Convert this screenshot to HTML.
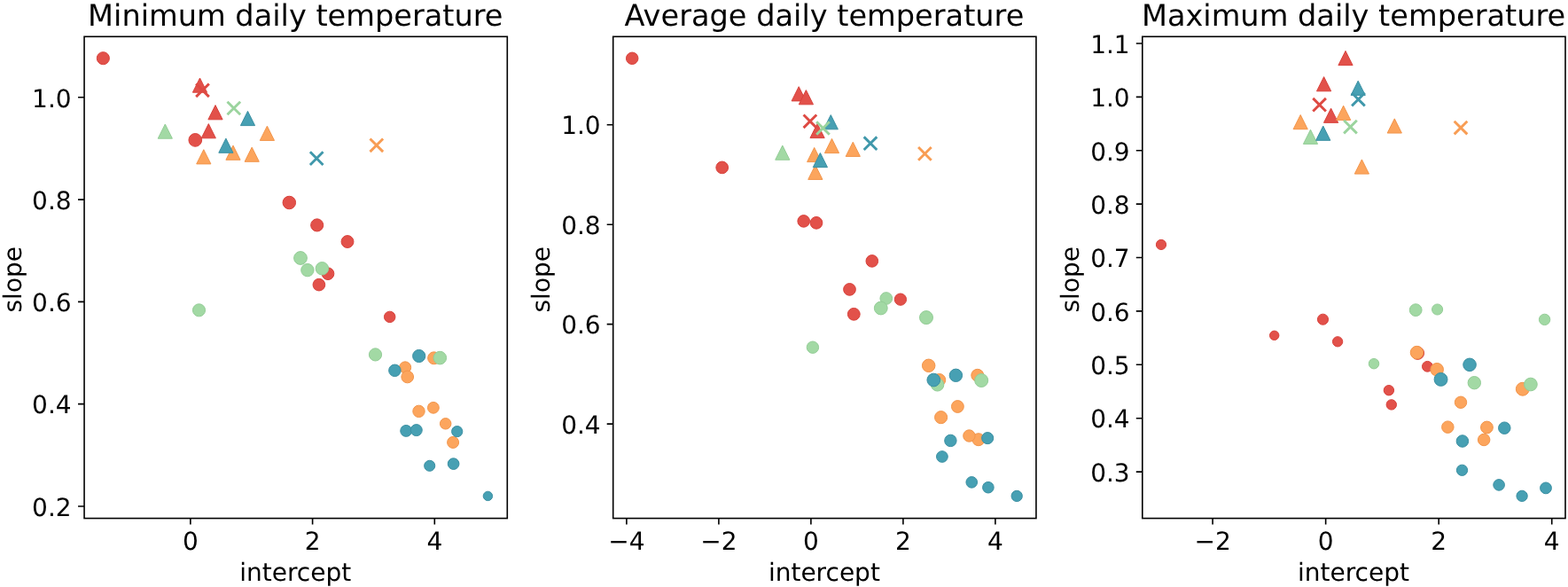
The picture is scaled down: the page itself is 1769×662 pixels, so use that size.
<!DOCTYPE html>
<html lang="en"><head><meta charset="utf-8">
<title>Slope vs intercept of daily temperature fits</title>
<style>
html,body{margin:0;padding:0;background:#fff;}
body{width:1769px;height:662px;overflow:hidden;}
svg{display:block;}
text{font-family:"DejaVu Sans", "Liberation Sans", sans-serif;fill:#000;text-rendering:geometricPrecision;}
.tk{font-size:28px;}
.lb{font-size:28px;}
.ti{font-size:33.6px;}
.sp{fill:none;stroke:#000;stroke-width:1.6;stroke-linejoin:miter;stroke-linecap:square;}
.tm{stroke:#000;stroke-width:1.6;fill:none;}
.r{fill:#e2514a;stroke:#d8423c;}
.r path{stroke:#de4a43;}
.o{fill:#fca55d;stroke:#f2954b;}
.o path{stroke:#f89d54;}
.g{fill:#a2d9a4;stroke:#94cd97;}
.g path{stroke:#9bd49e;}
.t{fill:#47a0b3;stroke:#3a8fa2;}
.t path{stroke:#4098ab;}
.mk{stroke-width:1;}
.mk polygon{stroke-linejoin:miter;stroke-miterlimit:10;}
.mk path{fill:none;stroke-linecap:square;stroke-width:2.9;}
</style></head><body>
<svg width="1769" height="662" viewBox="0 0 1769 662" role="img" aria-label="Slope versus intercept scatter plots for minimum, average and maximum daily temperature">
<rect x="0" y="0" width="1769" height="662" fill="#fff"/>
<g id="panel1">
<g class="mk">
<g class="r">
<circle cx="116.35" cy="65.7" r="7.05"/>
<circle cx="220.3" cy="157.9" r="7.35"/>
<circle cx="326.3" cy="228.5" r="7.25"/>
<circle cx="357.7" cy="253.9" r="7.05"/>
<circle cx="392" cy="272.55" r="6.95"/>
<circle cx="370" cy="308.7" r="6.85"/>
<circle cx="359.9" cy="321.1" r="6.85"/>
<circle cx="439.7" cy="357.4" r="6.25"/>
</g>
<g class="o">
<circle cx="489.6" cy="403.8" r="6.95"/>
<circle cx="457.1" cy="414.4" r="6.55"/>
<circle cx="459.7" cy="425" r="6.85"/>
<circle cx="472.5" cy="463.85" r="6.7"/>
<circle cx="488.9" cy="459.8" r="6.4"/>
<circle cx="502.7" cy="477.8" r="6.25"/>
<circle cx="511.1" cy="498.9" r="6.5"/>
</g>
<g class="g">
<circle cx="339" cy="291" r="7.4"/>
<circle cx="346.9" cy="304.6" r="7.2"/>
<circle cx="363.4" cy="302.8" r="7.25"/>
<circle cx="224.5" cy="349.8" r="7.05"/>
<circle cx="423.5" cy="399.9" r="7.1"/>
<circle cx="496.3" cy="403.6" r="7.3"/>
</g>
<g class="t">
<circle cx="472.7" cy="401.5" r="7.1"/>
<circle cx="445.4" cy="417.8" r="6.75"/>
<circle cx="458.2" cy="485.9" r="6.45"/>
<circle cx="469.75" cy="485.1" r="6.5"/>
<circle cx="515.7" cy="486.6" r="6.1"/>
<circle cx="484.7" cy="525.3" r="6.05"/>
<circle cx="511.6" cy="523.1" r="6.35"/>
<circle cx="550.4" cy="559.4" r="5.2"/>
</g>
<g class="r">
<polygon points="225.5,88.02 217.41,104.2 233.59,104.2"/>
<polygon points="243,118.62 234.91,134.8 251.09,134.8"/>
<polygon points="235.3,139.62 227.21,155.8 243.39,155.8"/>
</g>
<g class="o">
<polygon points="301.4,142.22 293.31,158.4 309.49,158.4"/>
<polygon points="263,164.12 254.91,180.3 271.09,180.3"/>
<polygon points="284.2,166.12 276.11,182.3 292.29,182.3"/>
<polygon points="229.8,168.72 221.71,184.9 237.89,184.9"/>
</g>
<g class="g">
<polygon points="186.3,140.02 178.21,156.2 194.39,156.2"/>
</g>
<g class="t">
<polygon points="279.5,125.42 271.41,141.6 287.59,141.6"/>
<polygon points="254.9,156.12 246.81,172.3 262.99,172.3"/>
</g>
<g class="r">
<path d="M222.2 95.5L234.8 108.1M222.2 108.1L234.8 95.5"/>
</g>
<g class="o">
<path d="M418.5 157.5L431.1 170.1M418.5 170.1L431.1 157.5"/>
</g>
<g class="g">
<path d="M257.5 115.7L270.1 128.3M257.5 128.3L270.1 115.7"/>
</g>
<g class="t">
<path d="M350.9 172.35L363.5 184.95M350.9 184.95L363.5 172.35"/>
</g>
</g>
<path class="tm" d="M214.87 584.55v7M352.6 584.55v7M490.3 584.55v7M95.05 109.8h-7M95.05 225.1h-7M95.05 340.4h-7M95.05 455.65h-7M95.05 570.94h-7"/>
<rect class="sp" x="95.05" y="41.3" width="477.25" height="543.25"/>
<text class="tk" x="214.87" y="620" text-anchor="middle">0</text>
<text class="tk" x="352.6" y="620" text-anchor="middle">2</text>
<text class="tk" x="490.3" y="620" text-anchor="middle">4</text>
<text class="tk" x="80.65" y="121" text-anchor="end">1.0</text>
<text class="tk" x="80.65" y="236" text-anchor="end">0.8</text>
<text class="tk" x="80.65" y="351" text-anchor="end">0.6</text>
<text class="tk" x="80.65" y="466" text-anchor="end">0.4</text>
<text class="tk" x="80.65" y="582" text-anchor="end">0.2</text>
<text class="lb" x="333.22" y="655" text-anchor="middle">intercept</text>
<text class="lb" transform="translate(24 315.22) rotate(-90)" text-anchor="middle">slope</text>
<text class="ti" x="333.32" y="29" text-anchor="middle">Minimum daily temperature</text>
</g>
<g id="panel2">
<g class="mk">
<g class="r">
<circle cx="713.2" cy="65.8" r="6.75"/>
<circle cx="814.7" cy="188.9" r="6.85"/>
<circle cx="906.7" cy="249.4" r="6.8"/>
<circle cx="921" cy="251.3" r="6.85"/>
<circle cx="983.8" cy="294.4" r="6.8"/>
<circle cx="958.5" cy="326.4" r="6.85"/>
<circle cx="1015.9" cy="337.65" r="6.65"/>
<circle cx="963.3" cy="354.3" r="6.9"/>
</g>
<g class="o">
<circle cx="1047.7" cy="412.3" r="7.25"/>
<circle cx="1059.7" cy="428.5" r="7"/>
<circle cx="1102.8" cy="423.3" r="7"/>
<circle cx="1080.4" cy="458.5" r="6.9"/>
<circle cx="1061.6" cy="470.65" r="7.05"/>
<circle cx="1103.9" cy="495.7" r="7"/>
<circle cx="1093.4" cy="491.5" r="6.7"/>
</g>
<g class="g">
<circle cx="999.8" cy="336.5" r="6.85"/>
<circle cx="993.8" cy="347.5" r="7.4"/>
<circle cx="1045" cy="358.1" r="7.5"/>
<circle cx="916.9" cy="391.7" r="6.7"/>
<circle cx="1057.6" cy="433.8" r="7.25"/>
<circle cx="1107.2" cy="429" r="7.5"/>
</g>
<g class="t">
<circle cx="1053.3" cy="428.55" r="7.35"/>
<circle cx="1078.4" cy="423.3" r="7.2"/>
<circle cx="1114.2" cy="494.1" r="6.55"/>
<circle cx="1072.4" cy="496.9" r="6.7"/>
<circle cx="1062.9" cy="515" r="6.35"/>
<circle cx="1096.25" cy="543.85" r="6.3"/>
<circle cx="1114.9" cy="549.7" r="6.3"/>
<circle cx="1147.2" cy="559.4" r="6.15"/>
</g>
<g class="r">
<polygon points="901.2,97.72 893.11,113.9 909.29,113.9"/>
<polygon points="909.4,101.62 901.31,117.8 917.49,117.8"/>
<polygon points="922.1,139.42 914.01,155.6 930.19,155.6"/>
</g>
<g class="o">
<polygon points="938.5,156.42 930.41,172.6 946.59,172.6"/>
<polygon points="962.3,160.22 954.21,176.4 970.39,176.4"/>
<polygon points="918.7,166.42 910.61,182.6 926.79,182.6"/>
<polygon points="919.85,186.22 911.76,202.4 927.94,202.4"/>
</g>
<g class="g">
<polygon points="882.8,164.07 874.71,180.25 890.89,180.25"/>
</g>
<g class="t">
<polygon points="937.3,129.62 929.21,145.8 945.39,145.8"/>
<polygon points="925.4,172.47 917.31,188.65 933.49,188.65"/>
</g>
<g class="r">
<path d="M907.6 130.5L920.2 143.1M907.6 143.1L920.2 130.5"/>
</g>
<g class="o">
<path d="M1037.1 167.1L1049.7 179.7M1037.1 179.7L1049.7 167.1"/>
</g>
<g class="g">
<path d="M922.2 138.2L934.8 150.8M922.2 150.8L934.8 138.2"/>
</g>
<g class="t">
<path d="M975.7 155.4L988.3 168M975.7 168L988.3 155.4"/>
</g>
</g>
<path class="tm" d="M706.9 584.55v7M810.9 584.55v7M914.9 584.55v7M1018.9 584.55v7M1122.9 584.55v7M691.7 140.73h-7M691.7 253.2h-7M691.7 365.65h-7M691.7 478.1h-7"/>
<rect class="sp" x="691.7" y="41.3" width="477.25" height="543.25"/>
<text class="tk" x="706.9" y="620" text-anchor="middle">−4</text>
<text class="tk" x="810.9" y="620" text-anchor="middle">−2</text>
<text class="tk" x="914.9" y="620" text-anchor="middle">0</text>
<text class="tk" x="1018.9" y="620" text-anchor="middle">2</text>
<text class="tk" x="1122.9" y="620" text-anchor="middle">4</text>
<text class="tk" x="677.7" y="151" text-anchor="end">1.0</text>
<text class="tk" x="677.7" y="264" text-anchor="end">0.8</text>
<text class="tk" x="677.7" y="376" text-anchor="end">0.6</text>
<text class="tk" x="677.7" y="489" text-anchor="end">0.4</text>
<text class="lb" x="929.88" y="655" text-anchor="middle">intercept</text>
<text class="lb" transform="translate(620 315.22) rotate(-90)" text-anchor="middle">slope</text>
<text class="ti" x="929.98" y="29" text-anchor="middle">Average daily temperature</text>
</g>
<g id="panel3">
<g class="mk">
<g class="r">
<circle cx="1310" cy="275.9" r="5.6"/>
<circle cx="1492.5" cy="360.2" r="6.05"/>
<circle cx="1437.7" cy="378.3" r="5.2"/>
<circle cx="1509.1" cy="385.3" r="5.65"/>
<circle cx="1599.4" cy="398.2" r="7.2"/>
<circle cx="1610.4" cy="413.3" r="5.9"/>
<circle cx="1566.9" cy="440.2" r="5.7"/>
<circle cx="1569.8" cy="456.4" r="5.7"/>
</g>
<g class="o">
<circle cx="1598.5" cy="397.6" r="7.25"/>
<circle cx="1621.15" cy="416.75" r="7.3"/>
<circle cx="1717.8" cy="438.75" r="7.45"/>
<circle cx="1648" cy="453.75" r="6.7"/>
<circle cx="1633.35" cy="481.65" r="6.75"/>
<circle cx="1677.45" cy="482" r="6.9"/>
<circle cx="1674.15" cy="495.95" r="6.75"/>
</g>
<g class="g">
<circle cx="1597.2" cy="349.65" r="6.9"/>
<circle cx="1621.6" cy="349" r="6.05"/>
<circle cx="1742.6" cy="360.4" r="6.2"/>
<circle cx="1550" cy="410.2" r="5.75"/>
<circle cx="1663.3" cy="431.7" r="7.2"/>
<circle cx="1726.9" cy="433.5" r="7.35"/>
</g>
<g class="t">
<circle cx="1625.55" cy="427.9" r="7.45"/>
<circle cx="1658.05" cy="411.35" r="7.3"/>
<circle cx="1697.3" cy="482.7" r="6.75"/>
<circle cx="1649.9" cy="497.5" r="6.75"/>
<circle cx="1649.5" cy="530.3" r="6.15"/>
<circle cx="1691.1" cy="546.9" r="6.3"/>
<circle cx="1717.1" cy="559.35" r="6.15"/>
<circle cx="1744" cy="550.4" r="6.4"/>
</g>
<g class="r">
<polygon points="1518,57.42 1509.91,73.6 1526.09,73.6"/>
<polygon points="1493.6,86.62 1485.51,102.8 1501.69,102.8"/>
<polygon points="1501.6,122.17 1493.51,138.35 1509.69,138.35"/>
</g>
<g class="o">
<polygon points="1515.65,119.22 1507.56,135.4 1523.74,135.4"/>
<polygon points="1467.2,129.52 1459.11,145.7 1475.29,145.7"/>
<polygon points="1573.3,133.87 1565.21,150.05 1581.39,150.05"/>
<polygon points="1536.4,179.92 1528.31,196.1 1544.49,196.1"/>
</g>
<g class="g">
<polygon points="1478.5,146.22 1470.41,162.4 1486.59,162.4"/>
</g>
<g class="t">
<polygon points="1532.2,91.22 1524.11,107.4 1540.29,107.4"/>
<polygon points="1492.75,142.12 1484.66,158.3 1500.84,158.3"/>
</g>
<g class="r">
<path d="M1482.3 111.9L1494.9 124.5M1482.3 124.5L1494.9 111.9"/>
</g>
<g class="o">
<path d="M1641.7 137.75L1654.3 150.35M1641.7 150.35L1654.3 137.75"/>
</g>
<g class="g">
<path d="M1517.2 136.8L1529.8 149.4M1517.2 149.4L1529.8 136.8"/>
</g>
<g class="t">
<path d="M1526.15 105.8L1538.75 118.4M1526.15 118.4L1538.75 105.8"/>
</g>
</g>
<path class="tm" d="M1368.1 584.55v7M1495.65 584.55v7M1623.2 584.55v7M1750.75 584.55v7M1288.8 48.93h-7M1288.8 109.33h-7M1288.8 169.7h-7M1288.8 230.1h-7M1288.8 290.5h-7M1288.8 350.9h-7M1288.8 411.3h-7M1288.8 471.7h-7M1288.8 532.1h-7"/>
<rect class="sp" x="1288.8" y="41.3" width="477.2" height="543.25"/>
<text class="tk" x="1368.1" y="620" text-anchor="middle">−2</text>
<text class="tk" x="1495.65" y="620" text-anchor="middle">0</text>
<text class="tk" x="1623.2" y="620" text-anchor="middle">2</text>
<text class="tk" x="1750.75" y="620" text-anchor="middle">4</text>
<text class="tk" x="1274.7" y="60" text-anchor="end">1.1</text>
<text class="tk" x="1274.7" y="120" text-anchor="end">1.0</text>
<text class="tk" x="1274.7" y="181" text-anchor="end">0.9</text>
<text class="tk" x="1274.7" y="241" text-anchor="end">0.8</text>
<text class="tk" x="1274.7" y="301" text-anchor="end">0.7</text>
<text class="tk" x="1274.7" y="362" text-anchor="end">0.6</text>
<text class="tk" x="1274.7" y="422" text-anchor="end">0.5</text>
<text class="tk" x="1274.7" y="482" text-anchor="end">0.4</text>
<text class="tk" x="1274.7" y="543" text-anchor="end">0.3</text>
<text class="lb" x="1526.95" y="655" text-anchor="middle">intercept</text>
<text class="lb" transform="translate(1217 315.22) rotate(-90)" text-anchor="middle">slope</text>
<text class="ti" x="1527.05" y="29" text-anchor="middle">Maximum daily temperature</text>
</g>
</svg>
</body></html>
